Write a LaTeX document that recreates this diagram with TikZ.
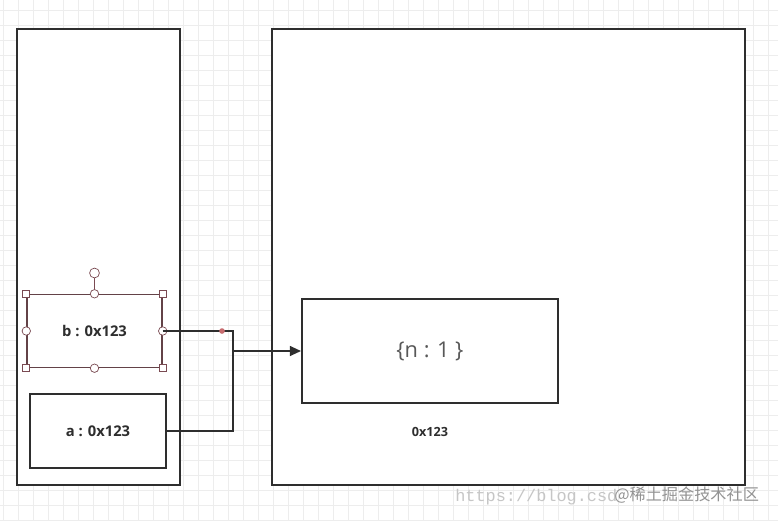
\documentclass[tikz,border=0pt]{standalone}
\usepackage{fontspec}
\setmainfont{Open Sans}
\newfontfamily\cjk{Noto Sans CJK SC}
\newfontfamily\urlfont{Liberation Mono}
\usetikzlibrary{arrows.meta}
\definecolor{ink}{HTML}{2E2E2E}
\definecolor{gridc}{HTML}{EDEDED}
\definecolor{handle}{HTML}{7A4A52}
\begin{document}
\begin{tikzpicture}[x=0.025cm, y=-0.025cm,
  frame/.style={draw=ink,line width=1.4pt,fill=white,inner sep=0pt},
  var/.style={draw=ink,line width=1.3pt,fill=white,font=\bfseries\fontsize{10.5}{12}\selectfont,text=ink},
  sqh/.style={draw=handle,fill=white,line width=0.5pt,minimum size=5pt,inner sep=0pt},
  cih/.style={draw=handle,fill=white,line width=0.5pt,circle,minimum size=6pt,inner sep=0pt},
  wire/.style={draw=ink,line width=1.4pt}]
\useasboundingbox (0,0) rectangle (778,521);
\fill[white] (0,0) rectangle (778,521);
% grid
\foreach \gx in {3,18,...,778} \draw[gridc,line width=0.4pt] (\gx,0) -- (\gx,521);
\foreach \gy in {10,25,...,521} \draw[gridc,line width=0.4pt] (0,\gy) -- (778,\gy);
% stack and heap
\node[frame,minimum width=4.075cm,minimum height=11.4cm] (stack) at (98.5,257) {};
\node[frame,minimum width=11.825cm,minimum height=11.4cm] (heap) at (508.5,257) {};
\node[var,draw=handle!70!ink,line width=1pt,minimum width=3.375cm,minimum height=1.825cm] (b) at (94.5,331) {b : 0x123};
\node[var,minimum width=3.4cm,minimum height=1.85cm] (a) at (98,431) {a : 0x123};
\node[var,font=\fontsize{15.5}{18}\selectfont,text=ink!80,minimum width=6.4cm,minimum height=2.6cm] (obj) at (430,351) {\{n : 1 \}};
\node[font=\bfseries\fontsize{9}{10}\selectfont,text=ink] (addr) at (430,432) {0x123};
% selection handles on b
\node[cih,minimum size=7pt] (rot) at (94.5,273) {};
\draw[handle,line width=0.5pt] (rot) -- (b.north);
\foreach \h in {north west,north east,south west,south east} \node[sqh] at (b.\h) {};
\foreach \h in {north,south,west,east} \node[cih] at (b.\h) {};
% references
\coordinate (join) at (233,351);
\draw[wire] (b.east) -| (join);
\draw[wire] (a.east) -| (join);
\draw[wire,-{Triangle[length=8pt,width=7pt]}] (join) -- (obj.west);
\fill[handle!60!red!70] (222,331) circle (2pt);
% watermark
\node[font=\urlfont\fontsize{12}{14}\selectfont,text=gray!45,anchor=west,inner sep=0pt] (url) at (455,497) {https://blog.csd};
\node[font=\cjk\fontsize{11.5}{14}\selectfont,text=gray!85,anchor=west,inner sep=0pt] (mark) at (614,495) {@稀土掘金技术社区};
\end{tikzpicture}
\end{document}
